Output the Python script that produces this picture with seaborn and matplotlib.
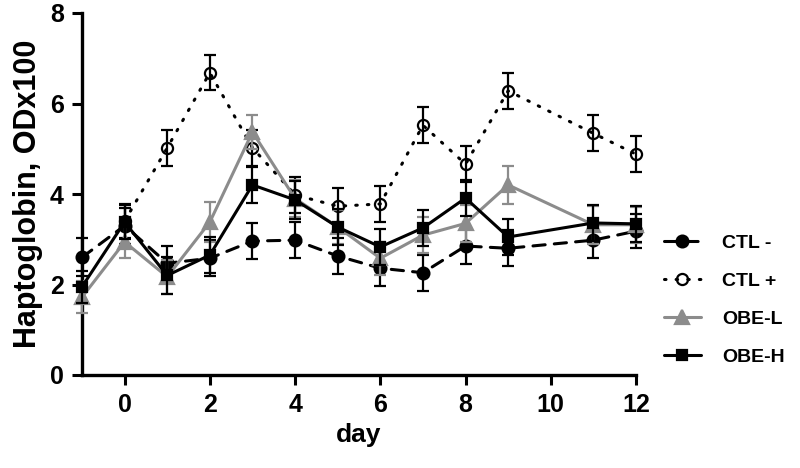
import numpy as np
import pandas as pd
import matplotlib
matplotlib.use("Agg")
import matplotlib.pyplot as plt
import seaborn as sns

# values (mean and error bar half-length)
days = [-1, 0, 1, 2, 3, 4, 5, 6, 7, 8, 9, 11, 12]
days_pos = [0, 1, 2, 3, 4, 5, 6, 7, 8, 9, 11, 12]

ctl_neg = [2.6, 3.3, 2.47, 2.58, 2.96, 2.98, 2.63, 2.36, 2.26, 2.85, 2.8, 2.98, 3.18]
ctl_neg_err = [0.42, 0.4, 0.38, 0.4, 0.4, 0.4, 0.4, 0.4, 0.4, 0.4, 0.4, 0.4, 0.38]

ctl_pos = [3.4, 5.02, 6.68, 5.02, 3.98, 3.73, 3.78, 5.52, 4.66, 6.28, 5.34, 4.88]
ctl_pos_err = [0.38, 0.4, 0.39, 0.4, 0.4, 0.4, 0.4, 0.4, 0.4, 0.4, 0.4, 0.4]

obe_l = [1.72, 2.94, 2.17, 3.38, 5.37, 3.9, 3.27, 2.58, 3.09, 3.35, 4.2, 3.32, 3.32]
obe_l_err = [0.35, 0.36, 0.38, 0.44, 0.38, 0.4, 0.38, 0.36, 0.4, 0.4, 0.42, 0.42, 0.4]

obe_h = [1.95, 3.38, 2.2, 2.65, 4.2, 3.87, 3.27, 2.83, 3.25, 3.91, 3.05, 3.36, 3.34]
obe_h_err = [0.35, 0.38, 0.4, 0.4, 0.4, 0.42, 0.4, 0.4, 0.4, 0.4, 0.4, 0.4, 0.4]

sns.set_style("ticks")
plt.rcParams['font.family'] = ['Liberation Sans', 'DejaVu Sans']
plt.rcParams['font.weight'] = 'bold'
plt.rcParams['text.color'] = 'black'
plt.rcParams['xtick.color'] = 'black'
plt.rcParams['ytick.color'] = 'black'
plt.rcParams['axes.labelcolor'] = 'black'
plt.rcParams['axes.edgecolor'] = 'black'

fig = plt.figure(figsize=(8, 4.68), dpi=100)
ax = fig.add_axes([82 / 800, 1 - 375 / 468, (636 - 82) / 800, (375 - 13) / 468])

gray = "#8c8c8c"
series = [
    # label, x, y, err, colour, line style, marker, face, size
    ("CTL -", days, ctl_neg, ctl_neg_err, "black", (0, (4, 3)), "o", "black", 8.5),
    ("CTL +", days_pos, ctl_pos, ctl_pos_err, "black", (0, (0.5, 3.3)), "o", "none", 8),
    ("OBE-L", days, obe_l, obe_l_err, gray, "-", "^", gray, 9.5),
    ("OBE-H", days, obe_h, obe_h_err, "black", "-", "s", "black", 7),
]

for i, (name, x, y, err, col, ls, mk, mfc, ms) in enumerate(series):
    df = pd.DataFrame({"day": x, "value": y})
    sns.lineplot(data=df, x="day", y="value", ax=ax, color=col, linestyle=ls,
                 linewidth=2.2, marker=mk, markersize=ms, markerfacecolor=mfc,
                 markeredgecolor=col, markeredgewidth=1.6, dash_capstyle="round",
                 errorbar=None, clip_on=False, zorder=3 + i, label=name)
    ax.errorbar(x, y, yerr=err, fmt="none", ecolor=col, elinewidth=1.6,
                capsize=4.5, capthick=1.6, clip_on=False, zorder=2 + i)

ax.set_xlim(-1, 12)
ax.set_ylim(0, 8)
ax.set_xticks([0, 2, 4, 6, 8, 10, 12])
ax.set_yticks([0, 2, 4, 6, 8])
ax.tick_params(axis="both", labelsize=18, width=2.2, length=7, pad=6)
for lab in ax.get_xticklabels() + ax.get_yticklabels():
    lab.set_fontweight("bold")
ax.set_xlabel("day", fontsize=19, fontweight="bold", labelpad=4)
ax.set_ylabel("Haptoglobin, ODx100", fontsize=22, fontweight="bold", labelpad=5)
sns.despine(ax=ax)
for s in ["left", "bottom"]:
    ax.spines[s].set_linewidth(2.4)

leg = ax.legend(loc="center left", bbox_to_anchor=(664 / 800, 1 - 300 / 468),
                bbox_transform=fig.transFigure, frameon=False, fontsize=14,
                handlelength=1.9, handletextpad=1.1, labelspacing=1.05,
                borderpad=0, borderaxespad=0)
for t in leg.get_texts():
    t.set_fontweight("bold")

fig.savefig("out.png", dpi=100)
